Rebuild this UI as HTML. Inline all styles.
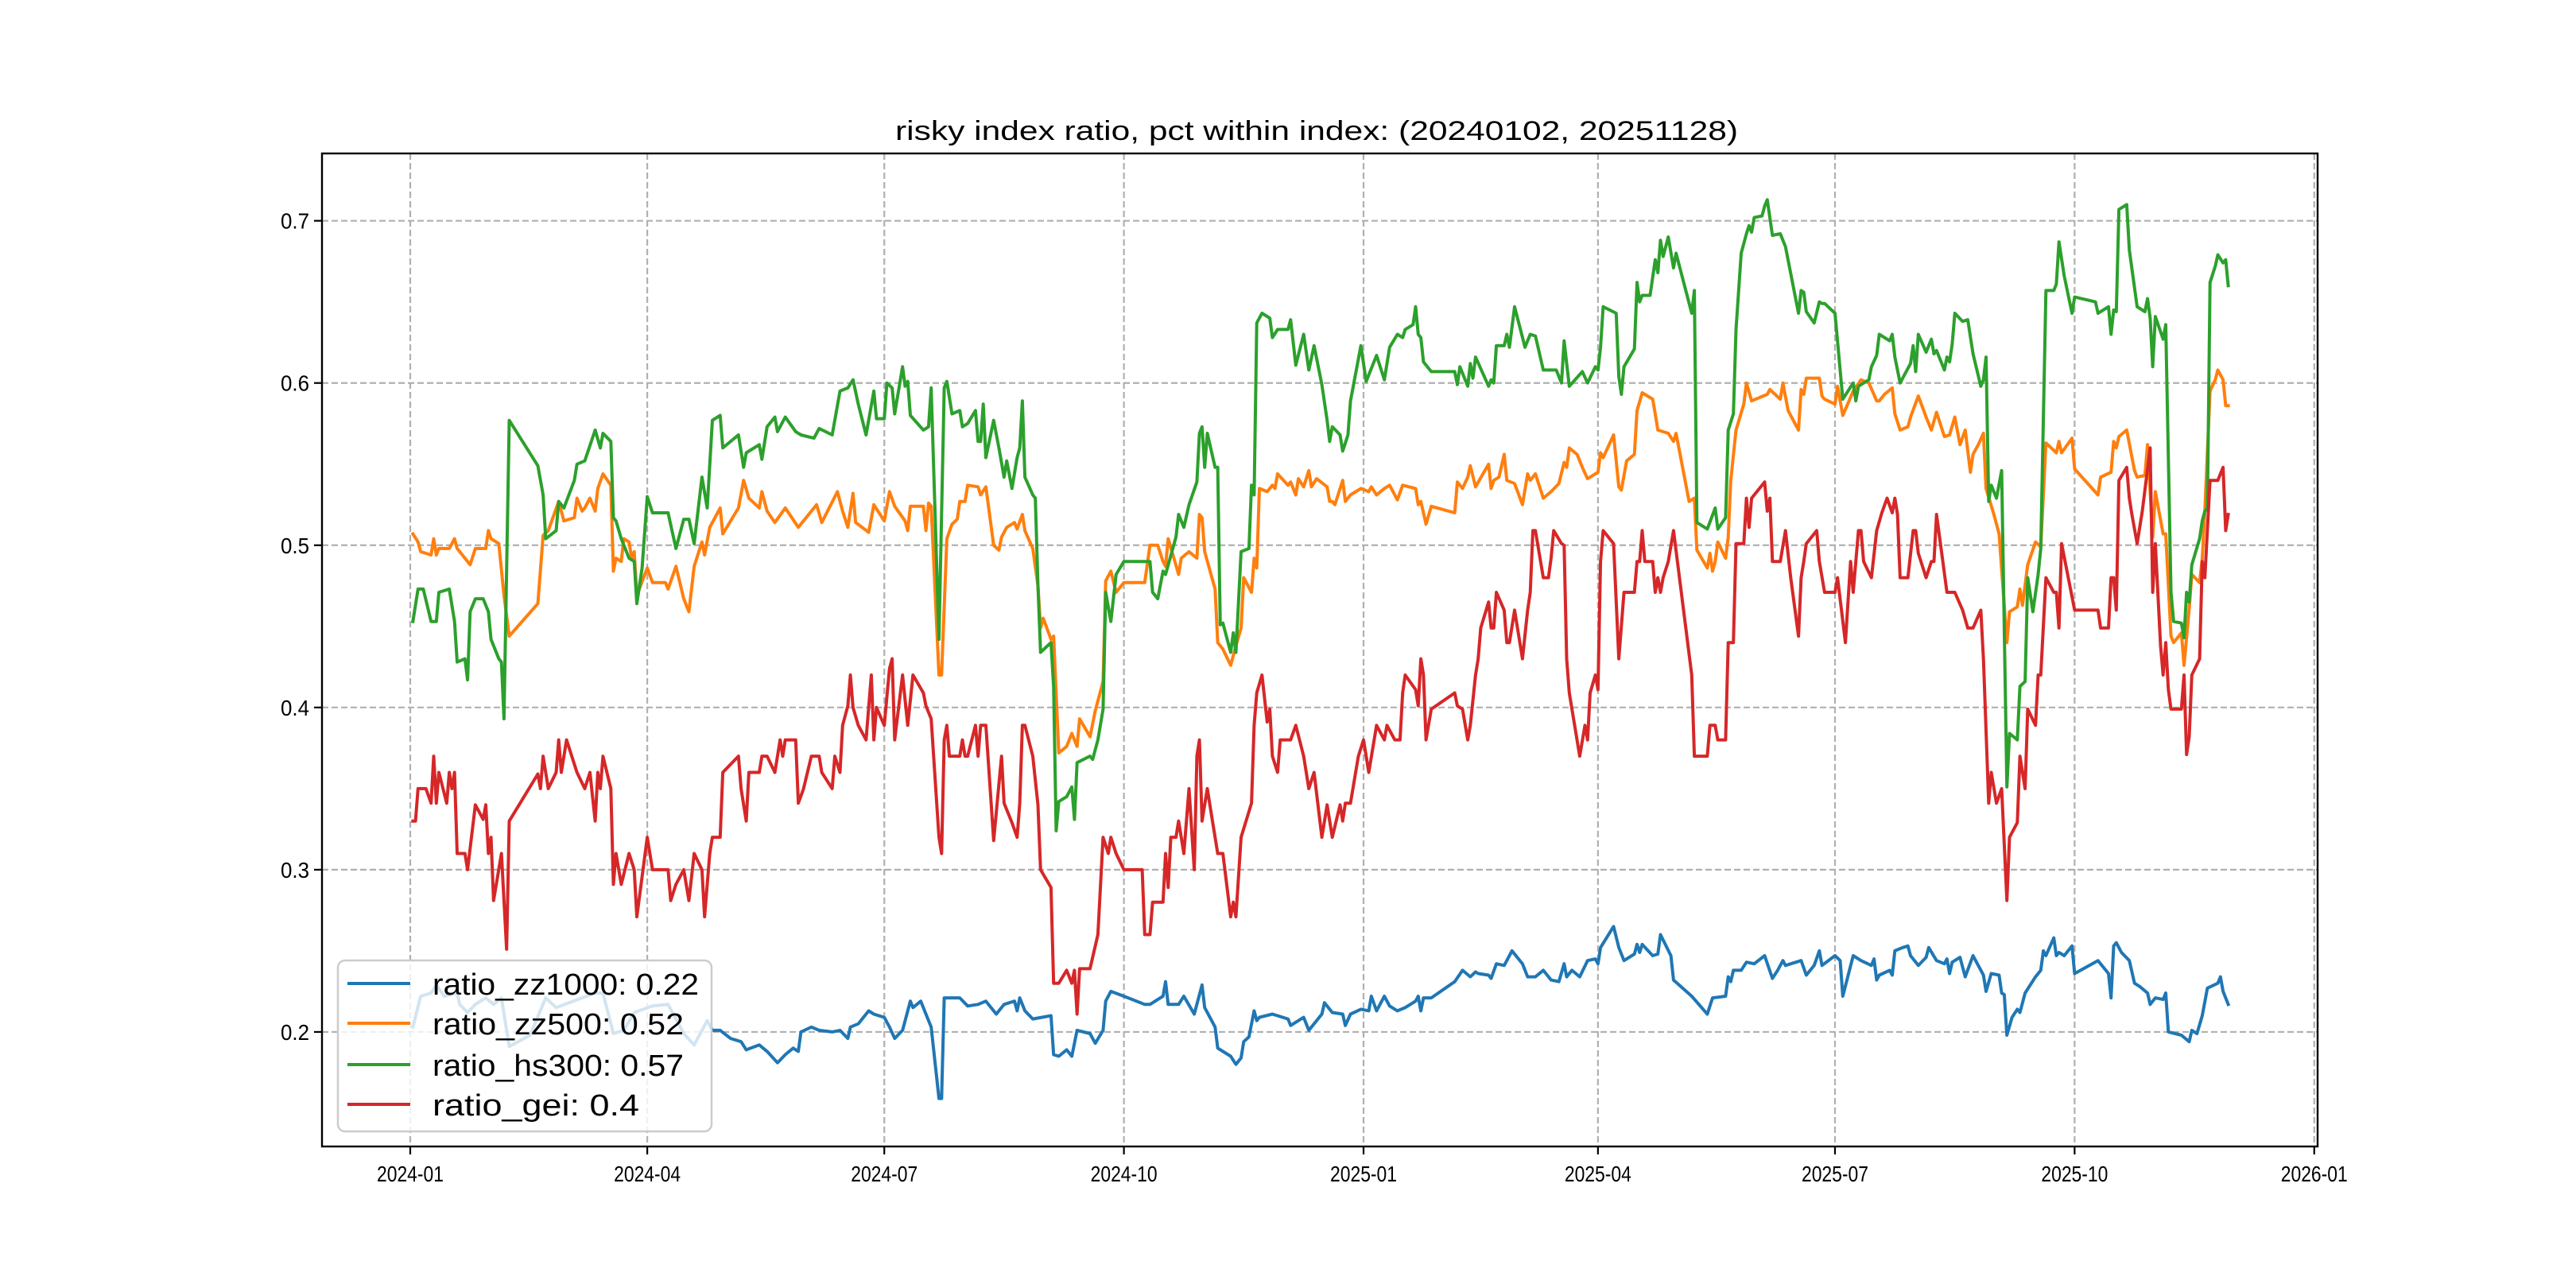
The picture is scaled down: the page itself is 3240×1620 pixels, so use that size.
<!DOCTYPE html>
<html><head><meta charset="utf-8"><title>risky index ratio</title>
<style>
html,body{margin:0;padding:0;background:#fff;}
svg{display:block;font-family:"Liberation Sans","Noto Sans CJK SC",sans-serif;}
</style></head>
<body>
<svg id="chart" width="3240" height="1620" viewBox="0 0 3240 1620" xmlns="http://www.w3.org/2000/svg">
<rect x="0" y="0" width="3240" height="1620" fill="#fff"/>
<text x="1126" y="176" font-size="34" textLength="1060" lengthAdjust="spacingAndGlyphs" fill="#000">risky index ratio, pct within index: (20240102, 20251128)</text>
<g id="grid"></g>
<g id="series"></g>
<g id="axes"></g>
<g id="legend"></g>
</svg>
<script>
// data: [dayOffset from 2024-01-01, value]
const xTickLabels = ["2024-01","2024-04","2024-07","2024-10","2025-01","2025-04","2025-07","2025-10","2026-01"];
const yTickValues = [0.2,0.3,0.4,0.5,0.6,0.7];
const yTickLabels = ["0.2","0.3","0.4","0.5","0.6","0.7"];
const seriesNames = ["ratio_zz1000: 0.22","ratio_zz500: 0.52","ratio_hs300: 0.57","ratio_gei: 0.4"];

const zz1000 = [[1,.203],[4,.222],[8,.224],[10,.229],[13,.222],[18,.224],[19,.217],[22,.212],[25,.217],[29,.221],[32,.217],[35,.221],[38,.191],[46,.198],[52,.221],[56,.215],[66,.221],[71,.224],[74,.224],[78,.199],[82,.201],[86,.212],[93,.216],[99,.217],[102,.208],[105,.199],[109,.192],[114,.207],
[116,.201],[119,.201],[123,.196],[127,.194],[129,.189],[134,.192],[137,.188],[141,.181],[144,.186],[147,.190],[149,.188],[150,.200],[154,.203],[157,.201],[162,.200],[165,.201],[168,.196],[169,.203],[172,.205],[176,.213],[178,.211],[182,.209],[184,.203],
[186,.196],[189,.201],[192,.219],[193,.215],[196,.219],[198,.211],[200,.203],[203,.159],[204,.159],[205,.221],[207,.221],[211,.221],[214,.216],[218,.217],[221,.219],[225,.211],[228,.217],[232,.219],[233,.213],[234,.221],[236,.213],[239,.208],[246,.210],[247,.186],[249,.185],[252,.189],[254,.185],[256,.201],[261,.199],[263,.193],[266,.201],[267,.219],[269,.225],[274,.222],[282,.217],[284,.217],[289,.222],[290,.231],[291,.217],[295,.217],[297,.222],[301,.211],[304,.229],[305,.215],[309,.203],[310,.190],[315,.185],[317,.180],[319,.184],[320,.194],[322,.197],[324,.213],[325,.207],[326,.209],[331,.211],[337,.208],[338,.204],[343,.209],[345,.201],[350,.211],[351,.218],[354,.212],[358,.211],[359,.204],[361,.211],[365,.214],[368,.213],[369,.222],[371,.213],[374,.222],
[376,.216],[379,.213],[382,.215],[386,.219],[387,.222],[388,.213],[389,.221],[392,.221],[401,.231],[404,.238],[407,.234],[409,.237],[410,.236],[414,.235],[415,.233],[417,.242],[420,.241],[422,.247],[423,.250],[427,.242],[429,.234],[432,.234],[435,.238],[438,.232],[441,.231],[443,.242],[444,.234],[446,.238],[449,.234],[452,.244],[455,.245],[456,.242],[457,.252],[462,.265],[464,.252],[466,.244],[470,.248],[471,.254],[472,.249],[473,.254],[477,.247],[479,.248],[480,.260],[484,.247],[485,.232],[492,.222],[498,.211],[500,.221],[505,.222],[506,.234],[507,.231],[508,.238],[511,.238],[513,.243],[516,.242],[520,.247],[523,.233],[525,.238],[527,.244],[528,.241],[534,.244],[536,.235],[539,.241],[541,.250],[542,.241],[547,.247],[549,.244],[550,.222],[554,.247],[557,.244],[561,.241],[562,.245],[563,.232],
[564,.235],[568,.238],[569,.235],[570,.250],[573,.252],[575,.253],[576,.247],[579,.241],[582,.246],[583,.252],[586,.244],[589,.242],[590,.245],[591,.236],[592,.243],[595,.246],[597,.234],[600,.247],[602,.241],[604,.235],[605,.225],[607,.236],[610,.235],[611,.224],[612,.223],[613,.198],[615,.209],[617,.214],[618,.212],[620,.224],[624,.234],[626,.238],[627,.250],[628,.247],[631,.258],[632,.247],[633,.249],[635,.247],[638,.253],[639,.236],[648,.244],[652,.236],[653,.221],[654,.253],[655,.255],[657,.249],[660,.244],[662,.230],[664,.228],[667,.224],[668,.217],[670,.221],[673,.220],[674,.224],[675,.200],[680,.198],[683,.194],[684,.201],[686,.199],[688,.210],[690,.227],[694,.230],[695,.234],[696,.225],[698,.217]];

const zz500 = [[1,.507],[3,.502],[4,.496],[8,.494],[9,.504],[10,.494],[11,.498],[15,.498],[17,.504],[18,.498],[23,.488],[25,.498],[29,.498],[30,.509],[31,.504],[34,.501],[36,.469],[38,.444],[49,.464],[51,.506],[53,.509],[57,.527],[59,.515],[63,.517],[64,.529],[66,.521],[67,.523],[69,.529],[71,.521],[72,.535],[74,.544],[77,.537],[78,.484],[79,.492],[81,.490],[82,.504],[84,.502],[85,.492],[86,.496],[87,.469],[91,.486],[93,.477],[98,.477],[99,.473],[102,.487],[105,.467],[107,.459],[109,.487],[112,.502],[113,.494],[115,.511],[119,.523],[120,.507],[126,.523],[128,.540],[130,.529],[134,.523],[135,.533],[137,.521],[140,.514],[144,.523],[149,.511],[156,.525],[158,.514],[164,.533],[166,.521],[168,.511],[170,.532],[171,.514],[176,.508],[178,.525],[182,.515],[184,.533],
[186,.524],[190,.515],[191,.509],[192,.524],[197,.524],[198,.509],[199,.526],[200,.524],[203,.420],[204,.420],[206,.504],[208,.513],[210,.516],[211,.527],[213,.527],[214,.537],[218,.536],[219,.531],[221,.536],[224,.500],[226,.497],[227,.505],[229,.511],[232,.514],[233,.510],[235,.519],[236,.509],[239,.498],[241,.475],[242,.449],[243,.455],[246,.442],[247,.444],[249,.372],[252,.376],[254,.384],[256,.376],[257,.393],[261,.382],[263,.398],[266,.416],[267,.478],[269,.484],[271,.471],[274,.477],[282,.477],[284,.500],[287,.500],[289,.490],[290,.487],[291,.504],[293,.493],[295,.482],[296,.492],[299,.496],[302,.492],[303,.519],[304,.517],[305,.496],[309,.473],[310,.440],[312,.436],[315,.426],[317,.438],[319,.449],[320,.480],[323,.471],[324,.492],[325,.486],[326,.535],[329,.533],[331,.537],[332,.535],[333,.544],[337,.537],[338,.539],[340,.531],[341,.541],[343,.536],[345,.546],[346,.536],[348,.541],[352,.536],[353,.527],[354,.527],[355,.525],[358,.540],[359,.527],[361,.531],[365,.535],[368,.533],[369,.536],[371,.531],[374,.535],
[376,.537],[379,.528],[381,.537],[386,.535],[387,.525],[388,.527],[390,.513],[392,.524],[401,.520],[402,.539],[404,.535],[406,.542],[407,.549],[409,.536],[414,.550],[415,.535],[416,.540],[418,.542],[420,.556],[421,.540],[424,.538],[427,.525],[429,.544],[430,.540],[432,.544],[435,.529],[438,.533],[441,.538],[443,.551],[444,.548],[445,.560],[448,.556],[450,.548],[452,.541],[456,.545],[457,.557],[458,.554],[462,.568],[464,.536],[465,.534],[467,.552],[470,.556],[471,.583],[473,.594],[477,.590],[478,.581],[479,.571],[483,.569],[485,.564],[486,.569],[491,.527],[493,.529],[494,.497],[498,.486],[499,.495],[500,.484],[501,.490],[502,.502],[505,.492],[506,.505],[507,.540],[509,.571],[512,.587],[513,.600],[515,.589],[521,.593],[522,.596],[526,.590],[527,.600],[529,.583],[533,.571],[534,.596],[535,.593],[536,.603],[541,.603],[542,.592],[543,.590],[547,.587],[548,.598],[550,.580],[554,.595],[557,.602],[560,.600],[563,.589],
[564,.589],[566,.593],[569,.597],[570,.581],[572,.571],[575,.573],[576,.579],[579,.592],[582,.579],[584,.571],[586,.582],[589,.567],[591,.568],[593,.579],[595,.562],[597,.571],[599,.545],[600,.556],[602,.562],[604,.569],[605,.535],[608,.519],[610,.507],[613,.440],[614,.459],[617,.462],[618,.473],[619,.463],[621,.488],[624,.502],[626,.499],[628,.563],[632,.557],[633,.564],[634,.557],[638,.566],[639,.547],[648,.531],[649,.542],[653,.545],[654,.564],[655,.560],[656,.567],[659,.571],[662,.546],[663,.542],[666,.543],[667,.562],[669,.505],[670,.533],[673,.507],[674,.507],[676,.444],[677,.440],[680,.446],[681,.426],[683,.461],[684,.482],[687,.477],[688,.492],[689,.521],[691,.595],[693,.602],[694,.608],[696,.602],[697,.586],[698,.586]];

const hs300 = [[1,.453],[3,.473],[5,.473],[8,.453],[10,.453],[11,.471],[15,.473],[17,.453],[18,.428],[21,.430],[22,.417],[23,.459],[25,.467],[28,.467],[30,.459],[31,.442],[34,.430],[35,.428],[36,.393],[38,.577],[49,.549],[51,.531],[52,.504],[56,.509],[57,.527],[59,.523],[63,.540],[64,.550],[67,.552],[71,.571],[73,.560],[74,.569],[77,.564],[78,.517],[79,.515],[81,.504],[84,.492],[86,.490],[87,.464],[89,.486],[91,.530],[93,.520],[99,.520],[102,.498],[105,.516],[107,.516],[109,.501],[112,.542],[114,.523],[116,.577],[119,.580],[120,.560],[126,.568],[128,.548],[129,.557],[134,.562],[135,.553],[137,.573],[140,.579],[141,.570],[144,.579],[148,.570],[150,.568],[155,.566],[157,.572],[162,.568],[165,.595],[168,.597],[170,.602],[172,.587],[175,.568],[178,.595],[179,.578],[182,.578],[183,.600],
[185,.597],[186,.581],[189,.610],[190,.598],[191,.601],[192,.580],[197,.571],[199,.573],[200,.597],[203,.442],[205,.597],[206,.601],[208,.581],[211,.583],[212,.573],[214,.575],[217,.583],[218,.564],[219,.564],[220,.587],[221,.554],[224,.577],[226,.560],[228,.542],[229,.552],[231,.535],[233,.554],[234,.560],[235,.589],[236,.542],[239,.531],[240,.529],[241,.475],[242,.434],[246,.440],[247,.413],[248,.324],[249,.342],[252,.345],[254,.351],[255,.331],[256,.366],[261,.370],[262,.368],[264,.380],[266,.399],[267,.471],[269,.453],[271,.482],[274,.490],[284,.490],[285,.471],[287,.467],[289,.484],[290,.482],[294,.505],[295,.519],[297,.511],[299,.525],[302,.539],[303,.569],[304,.573],[305,.548],[306,.569],[309,.548],[310,.548],[311,.451],[312,.452],[315,.434],[316,.446],[317,.434],[319,.496],[322,.498],[323,.537],[324,.531],[325,.637],[327,.643],[330,.640],[331,.628],[333,.633],[337,.633],[338,.639],[340,.611],[343,.630],[345,.608],[347,.623],[350,.599],[352,.577],[353,.564],[354,.573],[357,.568],[358,.558],[360,.568],[361,.589],[365,.623],[367,.601],[371,.617],[374,.602],
[376,.622],[379,.630],[381,.628],[382,.633],[385,.636],[386,.647],[387,.630],[388,.628],[389,.613],[392,.607],[401,.607],[402,.599],[403,.610],[406,.598],[407,.612],[408,.603],[409,.616],[414,.598],[415,.602],[416,.600],[417,.623],[420,.623],[421,.630],[422,.622],[424,.647],[428,.622],[430,.630],[432,.629],[435,.608],[440,.608],[442,.600],[443,.626],[444,.612],[445,.598],[450,.607],[452,.600],[455,.610],[456,.608],[457,.622],[458,.647],[463,.643],[464,.604],[465,.593],[466,.610],[470,.621],[471,.662],[472,.650],[473,.654],[476,.654],[478,.676],[479,.668],[480,.688],[481,.678],[483,.690],[485,.671],[486,.680],[492,.643],[493,.657],[494,.514],[498,.510],[501,.523],[502,.510],[505,.517],[506,.571],[508,.581],[509,.633],[511,.680],[513,.692],[514,.697],[515,.693],[516,.702],[519,.703],[520,.709],[521,.713],[523,.691],[526,.692],[528,.684],[533,.643],[534,.657],[535,.656],[536,.644],[539,.637],[541,.650],[542,.649],[543,.649],[547,.643],[550,.590],[554,.600],[555,.589],[556,.598],[560,.602],[561,.610],[563,.617],
[564,.630],[568,.626],[569,.630],[570,.616],[572,.600],[576,.612],[577,.623],[578,.607],[579,.630],[582,.619],[584,.627],[585,.618],[586,.620],[589,.608],[590,.616],[591,.613],[592,.624],[593,.643],[596,.638],[598,.639],[600,.618],[603,.598],[604,.602],[605,.616],[606,.527],[607,.537],[609,.529],[611,.546],[613,.351],[614,.384],[617,.380],[618,.413],[620,.416],[621,.480],[623,.459],[625,.482],[626,.498],[628,.657],[631,.657],[632,.661],[633,.687],[635,.666],[638,.643],[639,.653],[647,.650],[648,.643],[652,.647],[653,.630],[654,.645],[655,.644],[656,.707],[659,.710],[660,.682],[663,.647],[666,.644],[667,.652],[668,.640],[669,.610],[670,.641],[673,.627],[674,.636],[676,.471],[677,.453],[680,.452],[681,.443],[682,.471],[683,.465],[684,.488],[687,.504],[688,.515],[689,.521],[690,.523],[691,.662],[693,.672],[694,.679],[696,.674],[697,.676],[698,.660]];

const gei = [[1,.330],[2,.330],[3,.350],[6,.350],[8,.341],[9,.370],[10,.341],[11,.360],[14,.341],[15,.360],[16,.350],[17,.360],[18,.310],[21,.310],[22,.300],[25,.340],[28,.331],[29,.340],[30,.310],[31,.320],[32,.281],[35,.310],[37,.251],[38,.330],[49,.359],[50,.350],[51,.370],[53,.350],[56,.360],[57,.380],[58,.360],[60,.380],[64,.360],[67,.350],[69,.360],[71,.330],[72,.360],[73,.350],[74,.370],[77,.350],[78,.291],[79,.310],[81,.291],[84,.310],[86,.300],[87,.271],[91,.320],[93,.300],[99,.300],[100,.281],[102,.291],[105,.300],[107,.281],[109,.310],[112,.300],[113,.271],[115,.310],[116,.320],[119,.320],[120,.360],[126,.370],[127,.350],[129,.330],[130,.360],[134,.360],[135,.370],[137,.370],[140,.360],[142,.380],[143,.370],[144,.380],[148,.380],[149,.341],[151,.350],[154,.370],[157,.370],[158,.360],[162,.350],[163,.370],[165,.360],[166,.389],[168,.401],[169,.420],[170,.400],[172,.389],[175,.380],[177,.420],[178,.380],[179,.400],[182,.389],[184,.424],
[185,.430],[186,.380],[189,.420],[191,.389],[193,.420],[197,.409],[198,.401],[200,.393],[203,.320],[204,.310],[205,.380],[206,.389],[207,.370],[211,.370],[212,.380],[213,.370],[214,.370],[217,.389],[218,.370],[219,.389],[221,.389],[224,.318],[227,.370],[228,.341],[231,.329],[233,.320],[234,.341],[235,.389],[236,.389],[239,.370],[241,.340],[242,.300],[246,.289],[247,.230],[249,.230],[252,.238],[254,.230],[255,.238],[256,.211],[257,.239],[261,.239],[264,.260],[266,.320],[268,.310],[269,.320],[271,.310],[274,.300],[281,.300],[282,.260],[284,.260],[285,.280],[289,.280],[290,.310],[291,.289],[292,.320],[294,.320],[295,.330],[297,.310],[299,.350],[301,.300],[302,.370],[303,.380],[304,.330],[306,.350],[308,.330],[310,.310],[312,.310],[315,.271],[316,.280],[317,.271],[319,.320],[323,.341],[324,.389],[325,.409],[327,.420],[329,.391],[330,.399],[331,.370],[333,.360],[334,.380],[338,.380],[340,.389],[343,.370],[345,.350],[347,.360],[350,.320],[352,.340],[354,.320],[357,.340],[358,.330],[359,.341],[361,.341],[364,.370],[366,.380],[368,.360],[371,.389],[374,.380],
[375,.389],[378,.380],[380,.380],[381,.409],[382,.420],[386,.411],[387,.401],[388,.430],[389,.420],[390,.380],[392,.399],[401,.409],[402,.401],[404,.399],[406,.380],[407,.389],[409,.420],[410,.430],[411,.449],[414,.465],[415,.449],[416,.449],[417,.471],[420,.460],[421,.440],[422,.440],[424,.460],[427,.430],[429,.460],[430,.471],[431,.509],[432,.509],[435,.480],[437,.480],[438,.492],[439,.509],[442,.501],[443,.500],[444,.430],[445,.409],[449,.370],[451,.389],[452,.380],[453,.409],[455,.420],[456,.411],[457,.490],[458,.509],[462,.501],[464,.430],[466,.471],[470,.471],[471,.490],[472,.490],[473,.509],[474,.490],[477,.490],[478,.471],[479,.480],[480,.471],[481,.480],[483,.490],[485,.509],[492,.420],[493,.370],[498,.370],[499,.389],[501,.389],[502,.380],[505,.380],[506,.440],[508,.440],[509,.501],[512,.501],[513,.529],[514,.511],[515,.529],[520,.539],[521,.521],[522,.529],[523,.490],[526,.490],[528,.509],[530,.480],[533,.444],[534,.480],[535,.490],[536,.501],[540,.509],[541,.490],[543,.471],[547,.471],[548,.480],[551,.440],[553,.490],[554,.471],[556,.509],[557,.509],[558,.490],[561,.480],[563,.509],
[565,.520],[567,.529],[569,.520],[570,.529],[571,.519],[572,.480],[575,.480],[577,.509],[578,.509],[579,.495],[582,.480],[584,.490],[585,.490],[586,.519],[590,.471],[593,.471],[596,.460],[598,.449],[600,.449],[603,.460],[604,.430],[606,.341],[607,.360],[609,.341],[611,.350],[613,.281],[614,.320],[617,.329],[618,.370],[620,.350],[621,.399],[624,.389],[625,.420],[626,.420],[628,.480],[631,.471],[632,.471],[633,.449],[634,.501],[639,.460],[648,.460],[649,.449],[652,.449],[653,.480],[654,.480],[655,.460],[656,.540],[659,.548],[660,.529],[661,.519],[663,.501],[665,.521],[668,.560],[669,.471],[670,.501],[672,.438],[673,.420],[674,.440],[675,.411],[676,.399],[680,.399],[681,.420],[682,.371],[683,.382],[684,.420],[687,.430],[688,.490],[689,.480],[691,.540],[694,.540],[696,.548],[697,.509],[698,.519]];

const seriesData = [zz1000, zz500, hs300, gei];
const seriesColors = ["#1f77b4","#ff7f0e","#2ca02c","#d62728"];
const seriesKeys = ["zz1000","zz500","hs300","gei"];

const NS = "http://www.w3.org/2000/svg";
const plotL = 405, plotR = 2915, plotT = 193, plotB = 1442;
const dayPx = 3.276, x0 = 516;
const yMin = 0.1294, yMax = 0.7415;
function xScale(d){ return x0 + d * dayPx; }
function yScale(v){ return plotB - (v - yMin) / (yMax - yMin) * (plotB - plotT); }
function dayOf(label){
  const p = label.split("-");
  const t = Date.UTC(+p[0], +p[1]-1, 1);
  return (t - Date.UTC(2024,0,1)) / 86400000;
}
function mk(tag, attrs, parent){
  const e = document.createElementNS(NS, tag);
  for (const k in attrs) e.setAttribute(k, attrs[k]);
  parent.appendChild(e);
  return e;
}
const grid = document.getElementById("grid");
const axes = document.getElementById("axes");
const series = document.getElementById("series");
const legend = document.getElementById("legend");

// x grid + ticks
xTickLabels.forEach(function(lab){
  const x = xScale(dayOf(lab));
  const g = mk("line",{x1:x,x2:x,y1:plotT,y2:plotB,stroke:"#b0b0b0","stroke-width":2.2,"stroke-dasharray":"8,4"},grid);
  
  
  const t = mk("line",{x1:x,x2:x,y1:plotB,y2:plotB+10,stroke:"#000","stroke-width":2.2},axes);
  
  
  const tx = mk("text",{x:x,y:plotB+44,"font-size":28,"text-anchor":"middle",fill:"#000",textLength:84,lengthAdjust:"spacingAndGlyphs"},axes);
  tx.textContent = lab;
  
  
});
// y grid + ticks
yTickValues.forEach(function(v,i){
  const y = yScale(v);
  const g = mk("line",{x1:plotL,x2:plotR,y1:y,y2:y,stroke:"#b0b0b0","stroke-width":2.2,"stroke-dasharray":"8,4"},grid);
  
  
  const t = mk("line",{x1:plotL-10,x2:plotL,y1:y,y2:y,stroke:"#000","stroke-width":2.2},axes);
  
  
  const tx = mk("text",{x:plotL-16,y:y+10,"font-size":28,"text-anchor":"end",fill:"#000",textLength:36,lengthAdjust:"spacingAndGlyphs"},axes);
  tx.textContent = yTickLabels[i];
  
  
});
// series lines
seriesData.forEach(function(arr,i){
  const d = arr.map(function(p,j){ return (j?"L":"M") + xScale(p[0]).toFixed(1) + "," + yScale(p[1]).toFixed(1); }).join("");
  const path = mk("path",{d:d,fill:"none",stroke:seriesColors[i],"stroke-width":4,"stroke-linejoin":"round","stroke-linecap":"square"},series);
  
  
});
// frame
const frame = mk("rect",{x:plotL,y:plotT,width:plotR-plotL,height:plotB-plotT,fill:"none",stroke:"#000","stroke-width":2.4},axes);



// legend
const box = mk("rect",{x:425,y:1208,width:470,height:215,rx:9,fill:"#fff","fill-opacity":0.8,stroke:"#cccccc","stroke-width":2.5},legend);


const rowY = [1237,1287,1339,1389];
seriesNames.forEach(function(name,i){
  const g = mk("g",{},legend);
  
  
  mk("line",{x1:437,x2:516,y1:rowY[i],y2:rowY[i],stroke:seriesColors[i],"stroke-width":4},g);
  const t = mk("text",{x:544,y:rowY[i]+14,"font-size":38,fill:"#000",textLength:(name.length*18.6).toFixed(0),lengthAdjust:"spacingAndGlyphs"},g);
  t.textContent = name;
  
  
});
</script>
</body></html>
